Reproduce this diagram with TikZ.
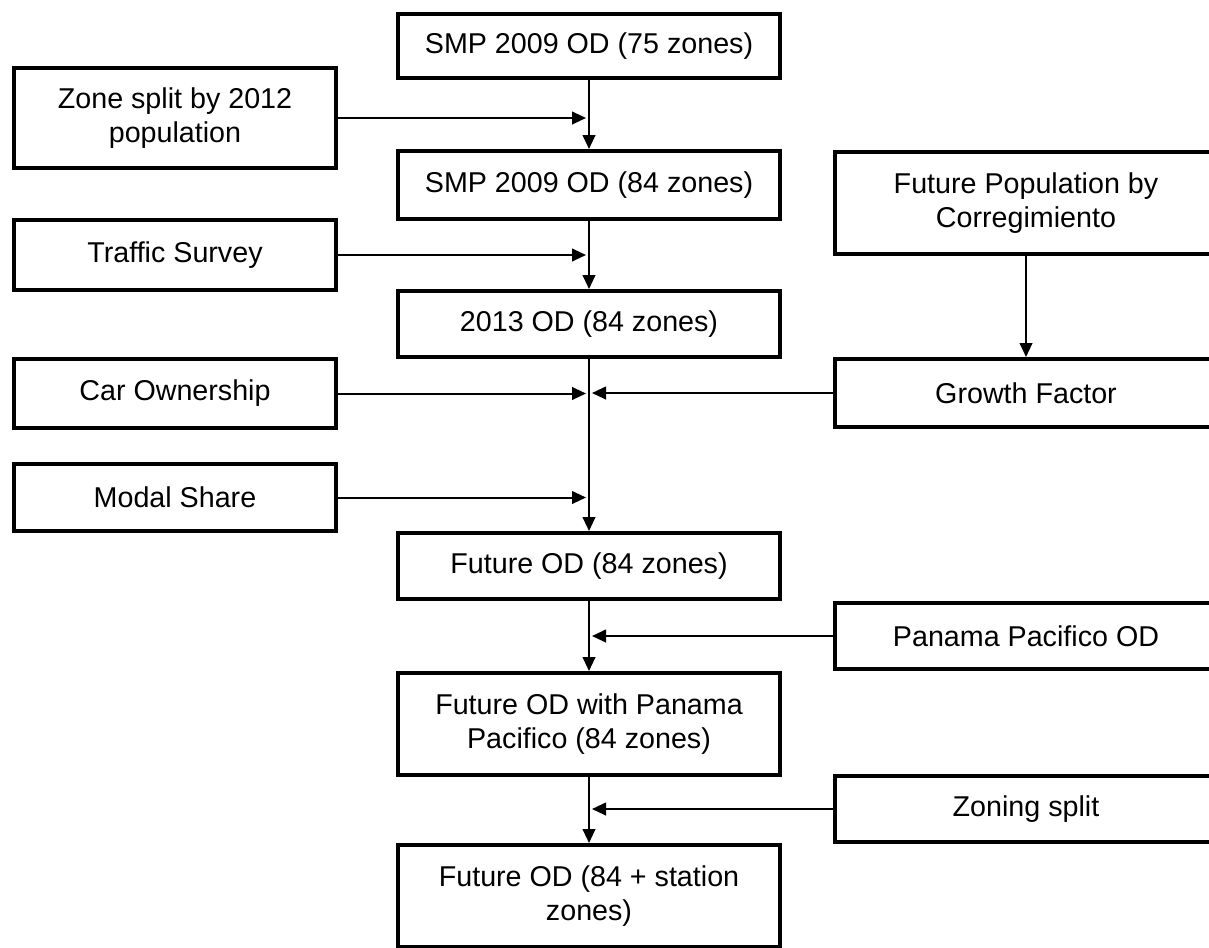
\documentclass[tikz,border=0pt]{standalone}
\usepackage{fontspec}
\setmainfont{Liberation Sans}
\usetikzlibrary{arrows.meta}
\begin{document}
\begin{tikzpicture}[x=0.75pt,y=-0.75pt,
  box/.style={draw, line width=3pt, align=center, inner sep=0pt,
    font=\fontsize{21.5}{25.5}\selectfont},
  midbox/.style={box, minimum width=286.5pt},
  leftbox/.style={box, minimum width=241.5pt},
  arr/.style={line width=1.5pt, -{Triangle[length=10.5pt,width=9.5pt]}}]
\useasboundingbox (0,0) rectangle (1209,947);
\clip (0,0) rectangle (1209,947);

% central column
\node[midbox, minimum height=48pt]   (c1) at (589,46)  {SMP 2009 OD (75 zones)};
\node[midbox, minimum height=51pt]   (c2) at (589,185) {SMP 2009 OD (84 zones)};
\node[midbox, minimum height=49.5pt] (c3) at (589,324) {2013 OD (84 zones)};
\node[midbox, minimum height=49.5pt] (c4) at (589,566) {Future OD (84 zones)};
\node[midbox, minimum height=76.5pt] (c5) at (589,724) {Future OD with Panama\\Pacifico (84 zones)};
\node[midbox, minimum height=76.5pt] (c6) at (589,896) {Future OD (84 + station\\zones)};

% left column
\node[leftbox, minimum height=75pt]    (l1) at (175,118)   {Zone split by 2012\\population};
\node[leftbox, minimum height=52.5pt]  (l2) at (175,255)   {Traffic Survey};
\node[leftbox, minimum height=51.75pt] (l3) at (175,393.5) {Car Ownership};
\node[leftbox, minimum height=50.25pt] (l4) at (175,497.5) {Modal Share};

% right column
\node[midbox, minimum height=76.5pt] (r1) at (1026,203) {Future Population by\\Corregimiento};
\node[midbox, minimum height=51pt]   (r2) at (1026,393) {Growth Factor};
\node[midbox, minimum height=49.5pt] (r3) at (1026,636) {Panama Pacifico OD};
\node[midbox, minimum height=49.5pt] (r4) at (1026,809) {Zoning split};

% junction x positions on the main line
\coordinate (ml) at (586,0);
\coordinate (mr) at (592,0);

% main flow
\draw[arr] (c1) -- (c2);
\draw[arr] (c2) -- (c3);
\draw[arr] (c3) -- (c4);
\draw[arr] (c4) -- (c5);
\draw[arr] (c5) -- (c6);
\draw[arr] (r1) -- (r2);

% side inputs
\draw[arr] (l1.east) -- (l1.east -| ml);
\draw[arr] (l2.east) -- (l2.east -| ml);
\draw[arr] (l3.east) -- (l3.east -| ml);
\draw[arr] (l4.east) -- (l4.east -| ml);
\draw[arr] (r2.west) -- (r2.west -| mr);
\draw[arr] (r3.west) -- (r3.west -| mr);
\draw[arr] (r4.west) -- (r4.west -| mr);
\end{tikzpicture}
\end{document}
